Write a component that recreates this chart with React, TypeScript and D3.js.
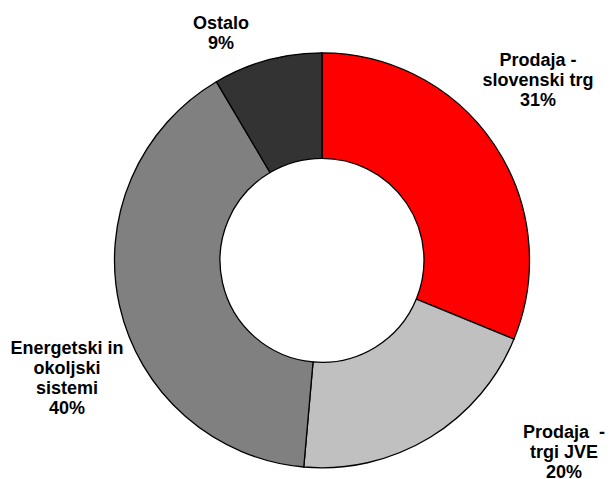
import React from "react";
import * as d3 from "d3";

const categories = ["Prodaja - slovenski trg", "Prodaja - trgi JVE", "Energetski in okoljski sistemi", "Ostalo"];
const values = [31.2, 20.2, 40.1, 8.5];
const labelLines = [
  ["Prodaja -", "slovenski trg", "31%"],
  ["Prodaja  -", "trgi JVE", "20%"],
  ["Energetski in", "okoljski", "sistemi", "40%"],
  ["Ostalo", "9%"],
];
const colors = ["#FF0000", "#C0C0C0", "#808080", "#333333"];

const W = 610;
const H = 479;
const cx = 322;
const cy = 260.3;
const outerR = 207.5;
const innerR = 102;

// label anchor positions (center x, first baseline y)
const labelPos: [number, number][] = [
  [538, 66],
  [564, 438],
  [67, 354],
  [221, 29],
];

export default function App() {
  const pie = d3.pie<number>().sort(null).value((d) => d);
  const arcs = pie(values);
  const arc = d3.arc<d3.PieArcDatum<number>>().innerRadius(innerR).outerRadius(outerR);
  return (
    <svg
      width={W}
      height={H}
      style={{ position: "absolute", left: 0, top: 0, background: "#fff" }}
      xmlns="http://www.w3.org/2000/svg"
    >
      <g transform={`translate(${cx},${cy})`}>
        {arcs.map((a, i) => (
          <path key={categories[i]} d={arc(a) || ""} fill={colors[i]} stroke="#000" strokeWidth={1.3} />
        ))}
      </g>
      {labelLines.map((lines, i) => (
        <text
          key={categories[i]}
          x={labelPos[i][0]}
          y={labelPos[i][1]}
          textAnchor="middle"
          fontFamily="'Liberation Sans', Arial, sans-serif"
          fontWeight="bold"
          fontSize={18}
          fill="#000"
          style={{ whiteSpace: "pre" }}
        >
          {lines.map((ln, j) => (
            <tspan key={j} x={labelPos[i][0]} dy={j === 0 ? 0 : 20}>
              {ln}
            </tspan>
          ))}
        </text>
      ))}
    </svg>
  );
}
